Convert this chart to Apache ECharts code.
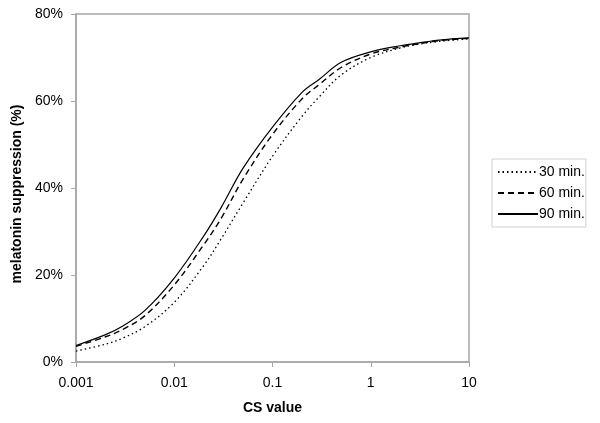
<!DOCTYPE html>
<html>
<head>
<meta charset="utf-8">
<script src="https://cdn.jsdelivr.net/npm/echarts@6/dist/echarts.min.js"></script>
<style>
  html, body { margin: 0; padding: 0; background: #fff; }
  #chart { width: 600px; height: 423px; }
</style>
</head>
<body>
<div id="chart"></div>
<script>
// CS values (log x axis)
var csValues = [0.001, 0.002, 0.003, 0.005, 0.01, 0.02, 0.03, 0.05, 0.1, 0.2, 0.3, 0.5, 1, 2, 3, 5, 10];

// melatonin suppression (%)
var min30 = [2.5, 4.1, 5.5, 8.1, 13.7, 22.2, 28.3, 36.5, 47.3, 56.5, 61.0, 66.0, 70.0, 72.2, 73.0, 73.7, 74.3];
var min60 = [3.6, 5.8, 7.5, 10.6, 17.7, 27.0, 33.0, 42.0, 52.3, 60.5, 63.8, 67.7, 70.8, 72.4, 73.1, 73.9, 74.4];
var min90 = [3.8, 6.3, 8.3, 11.8, 19.3, 29.0, 35.5, 44.5, 54.0, 62.0, 65.0, 68.9, 71.3, 72.7, 73.3, 74.0, 74.5];

var seriesNames = ['30 min.', '60 min.', '90 min.'];

function pairs(ys) {
    return csValues.map(function (x, i) { return [x, ys[i]]; });
}

var chart = echarts.init(document.getElementById('chart'));

var font = 'Liberation Sans, Arial, sans-serif';
var axisGrey = '#a6a6a6';

function lineSeries(name, ys, type, width) {
    return {
        name: name,
        type: 'line',
        data: pairs(ys),
        smooth: 0.35,
        symbol: 'none',
        lineStyle: { color: '#000', width: width, type: type },
        itemStyle: { color: '#000' }
    };
}

var option = {
    animation: false,
    backgroundColor: '#fff',
    textStyle: { fontFamily: font },
    grid: {
        left: 76, right: 131, top: 14, bottom: 61,
        show: true,
        borderColor: axisGrey,
        borderWidth: 1.5
    },
    legend: {
        orient: 'vertical',
        left: 492,
        top: 159,
        padding: [6, 1, 6, 5],
        itemGap: 7,
        itemWidth: 40,
        itemHeight: 10,
        borderColor: '#cfcfcf',
        borderWidth: 1,
        itemStyle: { opacity: 0 },
        textStyle: { fontFamily: font, fontSize: 14, color: '#000', padding: [0, 0, 0, -4] },
        data: seriesNames
    },
    xAxis: {
        type: 'log',
        logBase: 10,
        min: 0.001,
        max: 10,
        name: 'CS value',
        nameLocation: 'middle',
        nameGap: 39,
        nameTextStyle: { fontFamily: font, fontSize: 14, fontWeight: 'bold', color: '#000' },
        axisLine: { lineStyle: { color: axisGrey, width: 1.5 } },
        axisTick: { show: true, inside: false, length: 5, lineStyle: { color: axisGrey } },
        minorTick: { show: false },
        splitLine: { show: false },
        axisLabel: {
            fontFamily: font, fontSize: 14, color: '#000', margin: 14,
            formatter: function (v) { return String(+(+v).toPrecision(3)); }
        }
    },
    yAxis: {
        type: 'value',
        min: 0,
        max: 80,
        interval: 20,
        name: 'melatonin suppression (%)',
        nameLocation: 'middle',
        nameGap: 50,
        nameTextStyle: { fontFamily: font, fontSize: 14, fontWeight: 'bold', color: '#000', padding: [0, 12, 0, 0] },
        axisLine: { show: true, lineStyle: { color: axisGrey, width: 1.5 } },
        axisTick: { show: true, inside: false, length: 5, lineStyle: { color: axisGrey } },
        splitLine: { show: false },
        axisLabel: { fontFamily: font, fontSize: 14, color: '#000', margin: 13, formatter: '{value}%' }
    },
    series: [
        lineSeries(seriesNames[0], min30, [1.5, 3], 1.3),
        lineSeries(seriesNames[1], min60, [6, 4], 1.4),
        lineSeries(seriesNames[2], min90, 'solid', 1.2)
    ]
};

chart.setOption(option);
</script>
</body>
</html>
